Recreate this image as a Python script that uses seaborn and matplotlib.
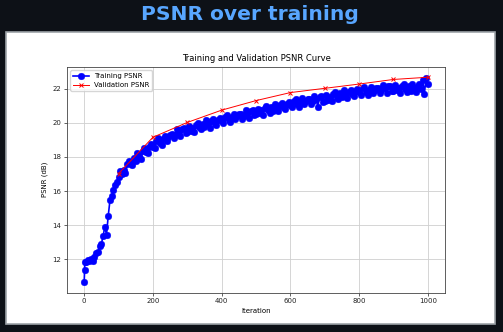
import matplotlib
matplotlib.use('Agg')
import matplotlib.pyplot as plt
import seaborn as sns
from matplotlib.patches import Rectangle

# training PSNR (iterations 0, 1, 2, then every 5)
train_iter = [0, 1, 2] + list(range(5, 1001, 5))
train_psnr = [
    10.65, 11.35, 11.85,
    11.82, 11.95, 11.88, 12.02, 11.90, 12.12, 12.35, 12.40, 12.75, 12.90,
    13.35, 13.90, 13.45, 14.55, 15.45, 15.70, 16.05, 16.35, 16.50, 16.85,
    17.15, 16.98, 17.25, 17.07, 17.58, 17.78, 17.58, 17.52, 17.91, 17.75,
    18.23, 18.06, 17.89, 18.32, 18.50, 18.27, 18.24, 18.56, 18.73, 18.60,
    18.51, 18.92, 19.08, 18.79, 18.70, 19.05, 19.25, 18.95, 19.15, 19.30,
    19.35, 19.09, 19.28, 19.62, 19.46, 19.20, 19.64, 19.72, 19.40, 19.48,
    19.81, 19.54, 19.72, 19.45, 19.88, 20.01, 19.74, 19.62, 19.95, 19.73,
    20.16, 19.94, 19.72, 20.10, 20.23, 19.95, 19.87, 20.15, 20.27, 20.10,
    19.97, 20.35, 20.47, 20.15, 20.02, 20.35, 20.52, 20.20, 20.37, 20.50,
    20.52, 20.24, 20.41, 20.73, 20.55, 20.27, 20.69, 20.76, 20.43, 20.50,
    20.83, 20.55, 20.73, 20.45, 20.88, 21.00, 20.73, 20.60, 20.93, 20.70,
    21.13, 20.90, 20.68, 21.05, 21.18, 20.90, 20.83, 21.10, 21.23, 21.05,
    20.92, 21.29, 21.41, 21.08, 20.95, 21.27, 21.44, 21.11, 21.28, 21.40,
    21.41, 21.12, 21.28, 21.59, 21.40, 20.95, 21.52, 21.58, 21.24, 21.30,
    21.62, 21.35, 21.52, 21.25, 21.67, 21.80, 21.52, 21.40, 21.72, 21.50,
    21.92, 21.69, 21.46, 21.83, 21.95, 21.67, 21.59, 21.85, 21.97, 21.79,
    21.65, 22.01, 22.12, 21.78, 21.64, 21.95, 22.11, 21.77, 21.93, 22.04,
    22.05, 21.75, 21.91, 22.21, 22.02, 21.72, 22.13, 22.18, 21.84, 21.89,
    22.20, 21.90, 22.06, 21.76, 22.17, 22.27, 21.98, 21.83, 22.14, 21.89,
    22.30, 22.05, 21.81, 22.16, 22.27, 21.97, 22.50, 21.70, 22.65, 22.25,
]

# validation PSNR every 100 iterations
val_iter = [100, 200, 300, 400, 500, 600, 700, 800, 900, 1000]
val_psnr = [17.02, 19.15, 20.02, 20.74, 21.30, 21.77, 22.02, 22.27, 22.54, 22.67]

W, H = 503, 332
fig = plt.figure(figsize=(W / 100, H / 100), dpi=100)
fig.patch.set_facecolor('#0d1117')

# white card holding the chart
card = Rectangle((6 / W, 1 - 324 / H), 489 / W, 292 / H, transform=fig.transFigure,
                 facecolor='white', edgecolor='#9da3a8', linewidth=1.2, zorder=-5)
fig.patches.append(card)

fig.text(250 / W, 1 - 15 / H, 'PSNR over training', color='#58a6ff',
         fontsize=14.6, fontweight='bold', ha='center', va='center')

ax = fig.add_axes([67 / W, 1 - 292.5 / H, 378 / W, 225.5 / H], zorder=2)
ax.set_facecolor('white')

sns.lineplot(x=train_iter, y=train_psnr, ax=ax, color='blue', marker='o',
             markersize=4.8, markeredgecolor='blue', markeredgewidth=0.3,
             linewidth=1.2, label='Training PSNR')
sns.lineplot(x=val_iter, y=val_psnr, ax=ax, color='red', marker='x',
             markersize=3, markeredgecolor='red', markeredgewidth=0.7,
             linewidth=0.7, label='Validation PSNR')

ax.set_xlim(-50, 1050)
ax.set_ylim(10.05, 23.27)
ax.set_xticks([0, 200, 400, 600, 800, 1000])
ax.set_yticks([12, 14, 16, 18, 20, 22])
ax.grid(True, color='#cfcfcf', linewidth=0.6)
ax.set_axisbelow(True)
ax.tick_params(labelsize=5, length=2, width=0.5, pad=2, colors='#222222')
for s in ax.spines.values():
    s.set_color('#444444')
    s.set_linewidth(0.6)

ax.set_title('Training and Validation PSNR Curve', fontsize=6, pad=4)
ax.set_xlabel('Iteration', fontsize=5, labelpad=3)
ax.set_ylabel('PSNR (dB)', fontsize=5, labelpad=3)
ax.legend(loc='upper left', fontsize=5, frameon=True, framealpha=0.8,
          borderpad=0.4, handlelength=2.2, labelspacing=0.4)

fig.savefig('out.png', dpi=100, facecolor=fig.get_facecolor())
